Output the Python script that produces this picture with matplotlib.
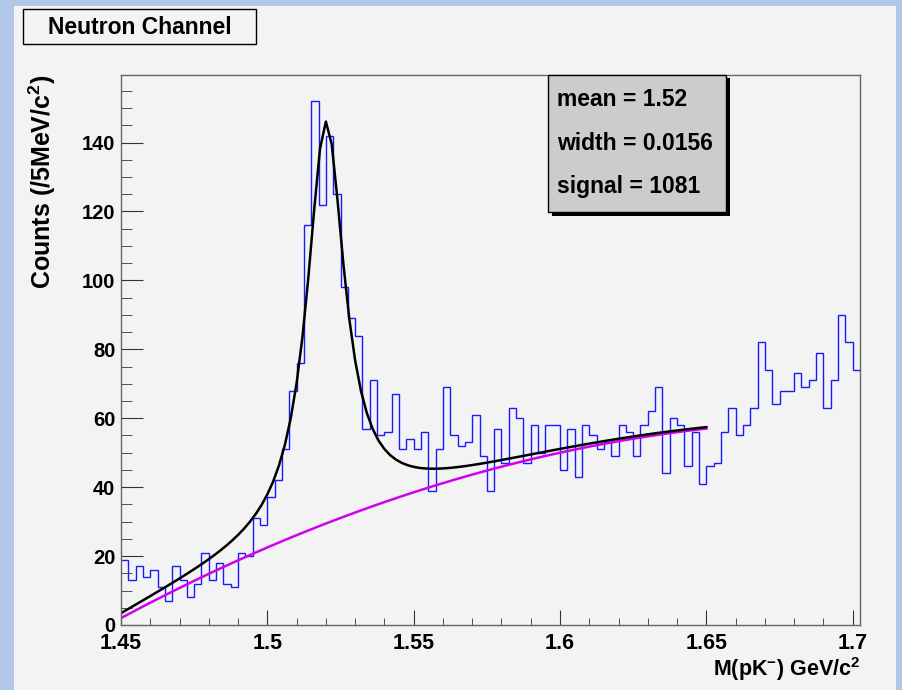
import numpy as np
import matplotlib
matplotlib.use("Agg")
import matplotlib.pyplot as plt
from matplotlib.patches import Rectangle
from matplotlib.ticker import MultipleLocator

plt.rcParams['font.family'] = ['Liberation Sans', 'DejaVu Sans']
plt.rcParams['font.weight'] = 'bold'
plt.rcParams['mathtext.fontset'] = 'custom'
plt.rcParams['mathtext.rm'] = 'Liberation Sans:bold'
plt.rcParams['mathtext.it'] = 'Liberation Sans:bold'
plt.rcParams['mathtext.bf'] = 'Liberation Sans:bold'

# histogram: 101 bins of 2.5 MeV starting at 1.45 GeV
bin_lo = 1.45
bin_w = 0.0025
counts = [19, 13, 17, 14, 16, 11, 7, 17, 13, 8,
          12, 21, 13, 18, 12, 11, 21, 20, 31, 29,
          37, 42, 51, 68, 76, 116, 152, 122, 142, 125,
          98, 89, 84, 57, 71, 55, 56, 67, 51, 54,
          51, 56, 39, 51, 69, 55, 52, 53, 61, 49,
          39, 57, 47, 63, 60, 47, 58, 50, 58, 58,
          45, 57, 43, 58, 55, 51, 53, 49, 58, 56,
          49, 58, 62, 69, 44, 60, 58, 46, 56, 41,
          46, 47, 56, 63, 55, 58, 63, 82, 74, 64,
          68, 68, 73, 69, 71, 79, 63, 71, 90, 82, 74]

# fit results (Breit-Wigner + quadratic background), range 1.45-1.65
fit_lo, fit_hi = 1.45, 1.65
mean = 1.52
width = 0.0156
signal = 1081
bg_coef = [2.0, 455.0, -900.0]   # in (m - 1.45)

stats_lines = ["mean = 1.52", "width = 0.0156", "signal = 1081"]
xticks = [1.45, 1.5, 1.55, 1.6, 1.65, 1.7]
xtick_labels = ["1.45", "1.5", "1.55", "1.6", "1.65", "1.7"]
yticks = [0, 20, 40, 60, 80, 100, 120, 140]

W, H = 902, 690
fig = plt.figure(figsize=(W / 100, H / 100), dpi=100)
fig.patch.set_facecolor('#b2c6ea')
fig.patches.append(Rectangle((14 / W, 0), (896 - 14) / W, (H - 6) / H,
                             transform=fig.transFigure, facecolor='#f3f3f3',
                             edgecolor='none', zorder=-5))

ax = fig.add_axes([121 / W, (H - 625) / H, 739 / W, 550 / H])
ax.set_facecolor('#f3f3f3')

edges = bin_lo + bin_w * np.arange(len(counts) + 1)
ax.stairs(counts, edges, baseline=None, color='#1a1aff', linewidth=1.0)

# fit curves sampled like ROOT (100 segments)
m = np.linspace(fit_lo, fit_hi, 101)
t = m - bin_lo
bg = bg_coef[0] + bg_coef[1] * t + bg_coef[2] * t ** 2
half = width / 2
frac = (np.arctan((fit_hi - mean) / half) + np.arctan((mean - fit_lo) / half)) / np.pi
bw = (signal / frac) * bin_w * (width / (2 * np.pi)) / ((m - mean) ** 2 + half ** 2)
ax.plot(m, bg, color='#d000f0', linewidth=1.8)
ax.plot(m, bg + bw, color='black', linewidth=1.8)

ax.set_xlim(bin_lo, edges[-1])
ax.set_ylim(0, 1.05 * max(counts))
ax.set_xticks(xticks)
ax.set_xticklabels(xtick_labels)
ax.set_yticks(yticks)
ax.xaxis.set_minor_locator(MultipleLocator(0.01))
ax.yaxis.set_minor_locator(MultipleLocator(5))
ax.tick_params(axis='both', which='both', direction='in', top=False, right=False,
               colors='#333333', labelcolor='black')
ax.tick_params(axis='x', which='major', length=11, labelsize=15.5, pad=6)
ax.tick_params(axis='x', which='minor', length=5)
ax.tick_params(axis='y', which='major', length=16, labelsize=14.5, pad=4)
ax.tick_params(axis='y', which='minor', length=8)
for lab in ax.get_xticklabels() + ax.get_yticklabels():
    lab.set_fontweight('bold')
for s in ax.spines.values():
    s.set_color('#666666')
    s.set_linewidth(1.0)

fig.text(860 / W, 1 - 669 / H, r"M(pK$^{-}$) GeV/c$^{2}$", ha='right', va='center',
         fontsize=15.5, fontweight='bold')
fig.text(42 / W, 1 - 75 / H, r"Counts (/5MeV/c$^{2}$)", ha='center', va='top',
         rotation=90, fontsize=18, fontweight='bold')

# title box
fig.patches.append(Rectangle((23 / W, 1 - 44 / H), 233 / W, 35 / H,
                             transform=fig.transFigure, facecolor='#f3f3f3',
                             edgecolor='black', linewidth=1.0, zorder=2))
fig.text(139.5 / W, 1 - 27 / H, "Neutron Channel", ha='center', va='center',
         fontsize=16.5, fontweight='bold', zorder=3)

# stats box with shadow
fig.patches.append(Rectangle((552 / W, 1 - 216 / H), 178 / W, 138 / H,
                             transform=fig.transFigure, facecolor='black',
                             edgecolor='none', zorder=4))
fig.patches.append(Rectangle((548 / W, 1 - 212 / H), 178 / W, 137 / H,
                             transform=fig.transFigure, facecolor='#cccccc',
                             edgecolor='black', linewidth=1.0, zorder=5))
for i, line in enumerate(stats_lines):
    fig.text(557 / W, 1 - (100 + 43.3 * i) / H, line, ha='left', va='center',
             fontsize=16.5, fontweight='bold', zorder=6)

fig.savefig('out.png', dpi=100, facecolor=fig.get_facecolor())
